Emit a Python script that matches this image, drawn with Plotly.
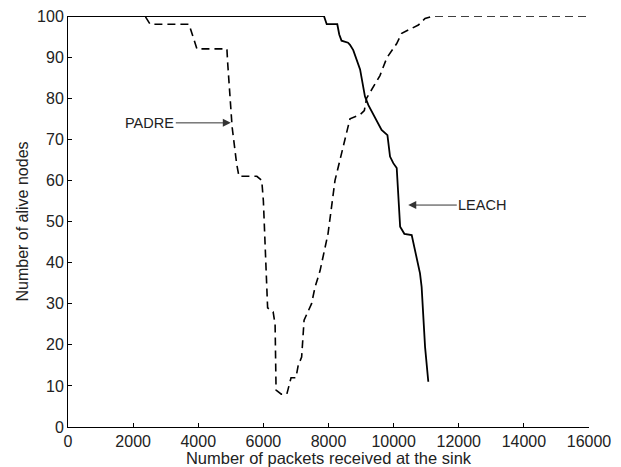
import plotly.graph_objects as go

padre_x = [0, 2365, 2520, 3716, 3960, 4880, 4900, 5000, 5040, 5180, 5220, 5250, 5800, 5950,
           6000, 6100, 6130, 6300, 6360, 6390, 6550, 6720, 6850, 7000, 7070, 7175, 7250,
           7480, 7585, 7740, 7985, 8200, 8440, 8660, 8970, 9100, 9170, 9580, 9790, 10095,
           10250, 10760, 10965, 11220, 16000]
padre_y = [100, 100, 98, 98, 92, 92, 89, 76, 73, 64, 62, 61, 61, 60,
           55, 38, 29, 28, 25, 9, 8, 8, 12, 12, 15, 17, 26,
           30, 34, 38, 47, 60, 68, 75, 76, 77, 80, 85.5, 89.8, 93.3,
           95.8, 97.8, 99.4, 100, 100]

leach_x = [0, 7860, 7945, 8270, 8330, 8400, 8600, 8660, 8760, 8970, 9120, 9225, 9630, 9810,
           9890, 9990, 10095, 10200, 10330, 10555, 10810, 10860, 10965, 11065]
leach_y = [100, 100, 98, 98, 95.5, 94, 93.5, 93, 91.7, 87, 80.4, 78.3, 72.3, 71,
           65.8, 64.2, 63, 48.7, 47, 46.7, 37.4, 34.1, 19.5, 11]

x_ticks = [0, 2000, 4000, 6000, 8000, 10000, 12000, 14000, 16000]
y_ticks = [0, 10, 20, 30, 40, 50, 60, 70, 80, 90, 100]

FONT = "Liberation Sans, Arial, sans-serif"
FS = 16
FA = 14.5

fig = go.Figure()
fig.add_trace(go.Scatter(x=padre_x, y=padre_y, mode="lines", name="PADRE",
                         line=dict(color="black", width=1.6, dash="8px,5px"),
                         cliponaxis=False))
fig.add_trace(go.Scatter(x=leach_x, y=leach_y, mode="lines", name="LEACH",
                         line=dict(color="black", width=1.8),
                         cliponaxis=False))

fig.add_annotation(x=5000, y=74, text="PADRE", showarrow=True, ax=-81, ay=0,
                   arrowhead=2, arrowsize=1.6, arrowwidth=1, arrowcolor="#333333",
                   font=dict(family=FONT, size=FA, color="#222222"))
fig.add_annotation(x=10450, y=54, text="LEACH", showarrow=True, ax=74, ay=0,
                   arrowhead=2, arrowsize=1.6, arrowwidth=1, arrowcolor="#333333",
                   font=dict(family=FONT, size=FA, color="#222222"))

fig.update_layout(
    width=621, height=467,
    margin=dict(l=68, r=32, t=16, b=40, autoexpand=False),
    paper_bgcolor="white", plot_bgcolor="white",
    showlegend=False,
    font=dict(family=FONT, size=FS, color="#222222"),
)
fig.update_xaxes(range=[0, 16000], tickvals=x_ticks, ticktext=[str(v) for v in x_ticks],
                 showgrid=False, zeroline=False, showline=True, linecolor="black", linewidth=1,
                 ticks="inside", ticklen=4, tickcolor="black", ticklabelstandoff=0,
                 automargin=False,
                 title=dict(text="Number of packets received at the sink", standoff=1,
                            font=dict(size=16.5)))
fig.update_yaxes(range=[0, 100], tickvals=y_ticks, ticktext=[str(v) for v in y_ticks],
                 showgrid=False, zeroline=False, showline=True, linecolor="black", linewidth=1,
                 ticks="inside", ticklen=4, tickcolor="black", automargin=False,
                 title=dict(text="Number of alive nodes", standoff=4, font=dict(size=FS)))

fig.write_html("out.html")
